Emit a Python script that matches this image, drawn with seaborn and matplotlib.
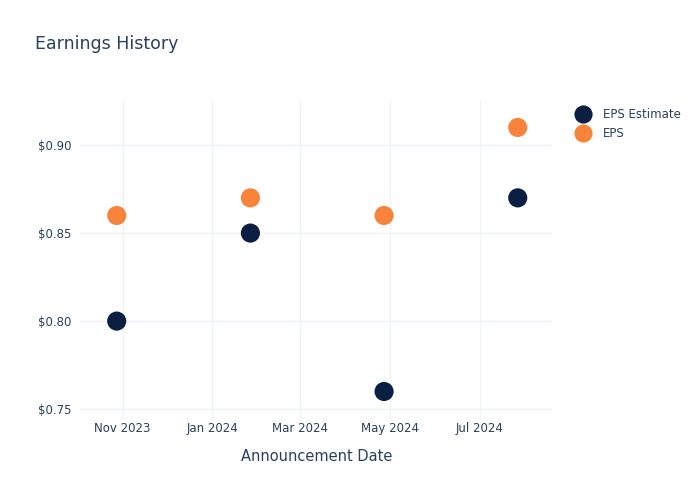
import matplotlib
matplotlib.use("Agg")
import matplotlib.pyplot as plt
import matplotlib.dates as mdates
from matplotlib.ticker import FuncFormatter
import seaborn as sns
import pandas as pd

dates = ["2023-10-28", "2024-01-27", "2024-04-27", "2024-07-27"]
eps_estimate = [0.80, 0.85, 0.76, 0.87]
eps_actual = [0.86, 0.87, 0.86, 0.91]
series_names = ["EPS Estimate", "EPS"]
colors = ["#0b1f42", "#f7843a"]

df = pd.DataFrame({
    "date": pd.to_datetime(dates * 2),
    "value": eps_estimate + eps_actual,
    "series": [series_names[0]] * len(dates) + [series_names[1]] * len(dates),
})

sns.set_style("white")
plt.rcParams["font.family"] = ["DejaVu Sans"]
text_color = "#2a3f5f"
grid_color = "#eef2f8"

fig = plt.figure(figsize=(7, 5), dpi=100)
ax = fig.add_axes([80 / 700, 80 / 500, (553 - 80) / 700, 320 / 500])

sns.scatterplot(data=df, x="date", y="value", hue="series", palette=colors,
                hue_order=series_names, s=190, edgecolor="none", ax=ax, zorder=3)

ax.set_xlim(pd.Timestamp("2023-10-03"), pd.Timestamp("2024-08-20"))
ax.set_ylim(0.7438, 0.9256)
ax.set_yticks([0.75, 0.80, 0.85, 0.90])
ax.yaxis.set_major_formatter(FuncFormatter(lambda v, p: f"${v:.2f}"))
ax.xaxis.set_major_locator(mdates.MonthLocator(bymonth=[1, 3, 5, 7, 9, 11]))
ax.xaxis.set_major_formatter(mdates.DateFormatter("%b %Y"))

ax.grid(True, color=grid_color, linewidth=1)
ax.set_axisbelow(True)
for s in ax.spines.values():
    s.set_visible(False)
ax.tick_params(axis="both", length=0, colors=text_color, labelsize=8.5)
ax.tick_params(axis="x", pad=1.5)
ax.tick_params(axis="y", pad=6)

ax.set_xlabel("Announcement Date", color=text_color, fontsize=10.5, labelpad=10)
ax.set_ylabel("")

fig.text(35 / 700, 1 - 44 / 500, "Earnings History", color=text_color,
         fontsize=12.5, va="center", ha="left")

leg = ax.legend(loc="upper left", bbox_to_anchor=(1.028, 0.99), frameon=False,
                fontsize=8.5, handletextpad=0.7, labelspacing=0.55,
                borderaxespad=0.0, markerscale=0.95)
for t in leg.get_texts():
    t.set_color(text_color)

fig.savefig("out.png", dpi=100)
